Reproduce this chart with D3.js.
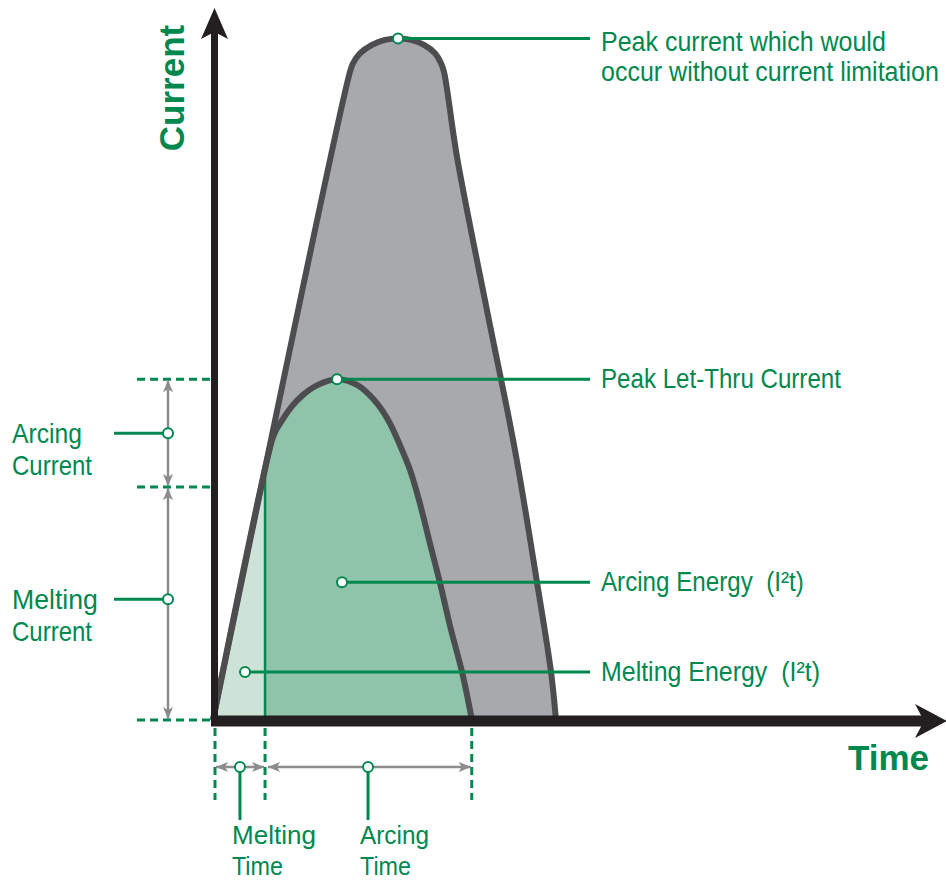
<!DOCTYPE html>
<html>
<head>
<meta charset="utf-8">
<script src="https://cdn.jsdelivr.net/npm/d3@7"></script>
<style>
body { margin: 0; background: #fff; }
svg { display: block; }
.lbl { font-family: "Liberation Sans", Arial, sans-serif; font-size: 27.5px; fill: #00884e; white-space: pre; }
.ttl { font-family: "Liberation Sans", Arial, sans-serif; font-weight: bold; font-size: 35px; fill: #00884e; }
</style>
</head>
<body>
<div id="chart"></div>
<script>
// values (time in ms, current in kA - arbitrary units)
var prospectiveTime = [0, 1.869, 1.910, 2.005, 2.169, 2.347, 2.524, 2.701, 2.879, 3.029, 3.111, 3.151, 3.329, 3.738, 4.120, 4.420, 4.611, 4.679];
var prospectiveCurrent = [0, 9.13, 9.25, 9.39, 9.51, 9.58, 9.60, 9.58, 9.51, 9.39, 9.25, 9.13, 7.93, 5.77, 3.80, 1.94, 0.68, 0];
var letThruTime = [0, 0.805, 0.859, 0.955, 1.078, 1.228, 1.432, 1.692, 1.965, 2.196, 2.387, 2.551, 2.688, 2.810, 2.947, 3.097, 3.247, 3.397, 3.533];
var letThruCurrent = [0, 3.94, 4.08, 4.24, 4.42, 4.58, 4.72, 4.80, 4.72, 4.51, 4.23, 3.87, 3.52, 3.10, 2.54, 1.93, 1.27, 0.68, 0];
var meltingTime = 0.71, clearingTime = 3.53;
var meltingCurrent = 3.28, peakLetThru = 4.80;

// callouts on the right
var calloutNames = ["Peak current which would|occur without current limitation", "Peak Let-Thru Current", "Arcing Energy  (I²t)", "Melting Energy  (I²t)"];
var calloutTime = [2.524, 1.692, 1.76, 0.437];
var calloutCurrent = [9.60, 4.80, 1.94, 0.676];
// callouts on the left (current spans) and below (time spans)
var currentNames = ["Arcing|Current", "Melting|Current"];
var currentAt = [4.04, 1.70];
var timeNames = ["Melting|Time", "Arcing|Time"];
var timeAt = [0.368, 2.115];

// text widths measured on the picture
var calloutWidths = [[285, 338], [240], [203], [219]];
var currentWidths = [[70, 80], [86, 80]];
var timeWidths = [[84, 51], [69, 51]];

var width = 946, height = 882;
var green = "#00884e", gray = "#8a8c8e", black = "#231f20";

var svg = d3.select("#chart").append("svg")
  .attr("width", width)
  .attr("height", height);

var x = d3.scaleLinear().domain([0, 10]).range([213, 946]);
var y = d3.scaleLinear().domain([0, 10]).range([720, 10]);

var prospective = prospectiveTime.map(function(t, i) { return [t, prospectiveCurrent[i]]; });
var letThru = letThruTime.map(function(t, i) { return [t, letThruCurrent[i]]; });

var line = d3.line()
  .x(function(d) { return x(d[0]); })
  .y(function(d) { return y(d[1]); })
  .curve(d3.curveCatmullRom.alpha(0.5));

// clip for the melting part of the let-thru area
svg.append("clipPath").attr("id", "melt")
  .append("rect")
  .attr("x", 0).attr("y", 0)
  .attr("width", x(meltingTime)).attr("height", height);

// grey prospective area
svg.append("path")
  .attr("d", line(prospective) + "Z")
  .attr("fill", "#a7a9ac");

// let-thru areas
svg.append("path")
  .attr("d", line(letThru) + "Z")
  .attr("fill", "#90c4aa");
svg.append("path")
  .attr("d", line(letThru) + "Z")
  .attr("fill", "#cde3d8")
  .attr("clip-path", "url(#melt)");

// melting time line
svg.append("line")
  .attr("x1", x(meltingTime)).attr("x2", x(meltingTime))
  .attr("y1", y(0)).attr("y2", y(meltingCurrent) - 10)
  .attr("stroke", green).attr("stroke-width", 2.5);

// outlines
svg.append("path")
  .attr("d", line(prospective))
  .attr("fill", "none")
  .attr("stroke", "#4d4d4f")
  .attr("stroke-width", 6)
  .attr("stroke-linejoin", "round");
svg.append("path")
  .attr("d", line(letThru))
  .attr("fill", "none")
  .attr("stroke", "#4d4d4f")
  .attr("stroke-width", 6)
  .attr("stroke-linejoin", "round");

// dashed guides
[peakLetThru, meltingCurrent, 0].forEach(function(c) {
  svg.append("line")
    .attr("x1", 137).attr("x2", x(0))
    .attr("y1", y(c)).attr("y2", y(c))
    .attr("stroke", green).attr("stroke-width", 3)
    .attr("stroke-dasharray", "8,5");
});
[0, meltingTime, clearingTime].forEach(function(t) {
  var xx = t === 0 ? x(0) + 2 : x(t);
  svg.append("line")
    .attr("x1", xx).attr("x2", xx)
    .attr("y1", y(0) + 8).attr("y2", 800)
    .attr("stroke", green).attr("stroke-width", 3)
    .attr("stroke-dasharray", "8,5");
});

// axes
svg.append("line")
  .attr("x1", x(0) + 1.5).attr("x2", x(0) + 1.5)
  .attr("y1", y(0) + 6).attr("y2", 30)
  .attr("stroke", black).attr("stroke-width", 7);
svg.append("path")
  .attr("d", "M" + (x(0) + 1.5) + ",8L201,39L" + (x(0) + 1.5) + ",32L228,39Z")
  .attr("fill", black);
svg.append("line")
  .attr("x1", x(0) - 2).attr("x2", 925)
  .attr("y1", y(0) + 1).attr("y2", y(0) + 1)
  .attr("stroke", black).attr("stroke-width", 11);
svg.append("path")
  .attr("d", "M947," + (y(0) + 1) + "L915,704L924," + (y(0) + 1) + "L915,738Z")
  .attr("fill", black);

// axis titles
svg.append("text")
  .attr("class", "ttl")
  .attr("transform", "translate(184,88)rotate(-90)")
  .attr("text-anchor", "middle")
  .text("Current");
svg.append("text")
  .attr("class", "ttl")
  .attr("x", 848).attr("y", 770)
  .text("Time");

// grey span arrows
svg.append("defs").append("marker")
  .attr("id", "head")
  .attr("viewBox", "0 -5 12 10")
  .attr("refX", 12).attr("refY", 0)
  .attr("markerUnits", "userSpaceOnUse")
  .attr("markerWidth", 12).attr("markerHeight", 10)
  .attr("orient", "auto-start-reverse")
  .append("path")
  .attr("d", "M0,-5L12,0L0,5L3,0Z")
  .attr("fill", gray);

[[peakLetThru, meltingCurrent], [meltingCurrent, 0]].forEach(function(s) {
  svg.append("line")
    .attr("x1", 168).attr("x2", 168)
    .attr("y1", y(s[0]) + 1).attr("y2", y(s[1]) - 1)
    .attr("stroke", gray).attr("stroke-width", 2.5)
    .attr("marker-start", "url(#head)")
    .attr("marker-end", "url(#head)");
});
[[0, meltingTime], [meltingTime, clearingTime]].forEach(function(s) {
  svg.append("line")
    .attr("x1", x(s[0]) + 3).attr("x2", x(s[1]) - 1)
    .attr("y1", 767).attr("y2", 767)
    .attr("stroke", gray).attr("stroke-width", 2.5)
    .attr("marker-start", "url(#head)")
    .attr("marker-end", "url(#head)");
});

// condensed look: squeeze each label to the width it has in the picture
function addText(xx, yy, str, w, size) {
  var t = svg.append("text")
    .attr("class", "lbl")
    .style("font-size", size ? size + "px" : null)
    .text(str);
  var natural = t.node().getComputedTextLength();
  t.attr("transform", "translate(" + xx + "," + yy + ")scale(" + (w / natural) + ",1)");
}

function dot(cx, cy) {
  svg.append("circle")
    .attr("cx", cx).attr("cy", cy).attr("r", 5)
    .attr("fill", "#fff")
    .attr("stroke", green).attr("stroke-width", 2);
}

// right callouts
calloutNames.forEach(function(name, i) {
  var cx = x(calloutTime[i]), cy = y(calloutCurrent[i]);
  svg.append("line")
    .attr("x1", cx).attr("x2", 590)
    .attr("y1", cy).attr("y2", cy)
    .attr("stroke", green).attr("stroke-width", 3);
  dot(cx, cy);
  var lines = name.split("|");
  var off = lines.length > 1 ? 13 : 9;
  lines.forEach(function(l, j) {
    addText(601, cy + off + j * 30, l, calloutWidths[i][j]);
  });
});

// left callouts
currentNames.forEach(function(name, i) {
  var cy = y(currentAt[i]);
  svg.append("line")
    .attr("x1", 114).attr("x2", 168)
    .attr("y1", cy).attr("y2", cy)
    .attr("stroke", green).attr("stroke-width", 3);
  dot(168, cy);
  name.split("|").forEach(function(l, j) {
    addText(12, cy + 10 + j * 32, l, currentWidths[i][j]);
  });
});

// bottom callouts
timeNames.forEach(function(name, i) {
  var cx = x(timeAt[i]);
  svg.append("line")
    .attr("x1", cx).attr("x2", cx)
    .attr("y1", 767).attr("y2", 820)
    .attr("stroke", green).attr("stroke-width", 3);
  dot(cx, 767);
  name.split("|").forEach(function(l, j) {
    addText(cx - 8, 844 + j * 31, l, timeWidths[i][j], 26);
  });
});
</script>
</body>
</html>
